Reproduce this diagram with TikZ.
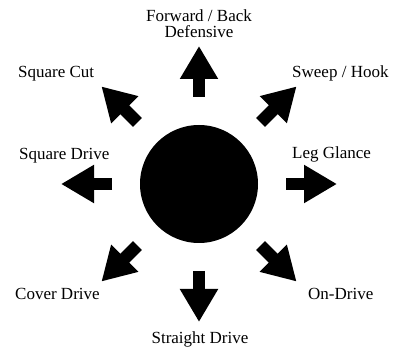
\documentclass[tikz,border=0pt]{standalone}
\usepackage{fontspec}
\setmainfont{Liberation Serif}
\usetikzlibrary{arrows.meta,calc}
\definecolor{shotink}{RGB}{0,0,0}

\begin{document}
\begin{tikzpicture}[x=1pt,y=1pt,font=\fontsize{17}{16}\selectfont]

% canvas
\useasboundingbox (0,0) rectangle (393,347);
\fill[white] (0,0) rectangle (393,347);

\tikzset{
  hubdisc/.style={
    circle,
    fill=shotink,
    minimum size=118pt,
    inner sep=0pt
  },
  shot/.style={
    draw=shotink,
    line width=12.5pt,
    -{Triangle[length=33pt,width=36pt]}
  },
  lbl/.style={
    inner sep=0pt,
    text=shotink
  }
}

% batsman in the middle
\node[hubdisc] (hub) at (199,163) {};

% eight shot arrows, tail r=87, tip r=138
\foreach \a in {0,45,...,315}{
  \coordinate (tail\a) at ($(hub.center)+(\a:87pt)$);
  \coordinate (tip\a) at ($(hub.center)+(\a:138pt)$);
  \draw[shot] (tail\a) -- (tip\a);
}

% shot names
\node[lbl,anchor=north,align=center] (fwd) at (199,337) {Forward / Back\\Defensive};
\node[lbl,anchor=base west] (sqcut) at (18,269) {Square Cut};
\node[lbl,anchor=base west] (sqdrive) at (19,187) {Square Drive};
\node[lbl,anchor=base west] (sweep) at (292,269) {Sweep / Hook};
\node[lbl,anchor=base west] (glance) at (292,188) {Leg Glance};
\node[lbl,anchor=base west] (cover) at (15,47) {Cover Drive};
\node[lbl,anchor=base west] (ondrive) at (308,47) {On-Drive};
\node[lbl,anchor=base] (straight) at (200,3) {Straight Drive};

\end{tikzpicture}
\end{document}
